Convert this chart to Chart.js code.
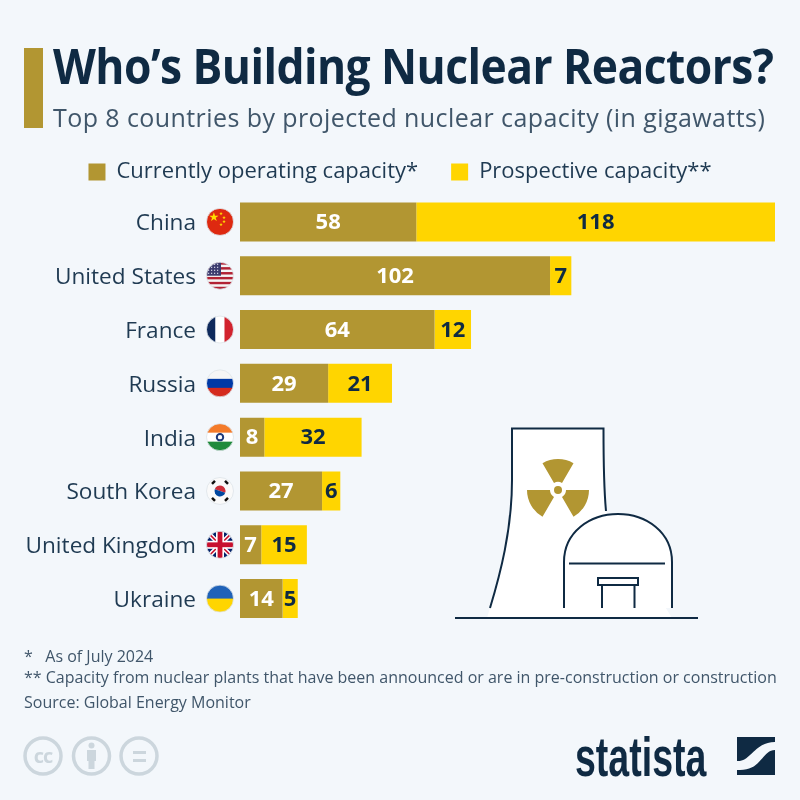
<!DOCTYPE html>
<html>
<head>
<meta charset="utf-8">
<script src="https://cdn.jsdelivr.net/npm/chart.js@4"></script>
<style>
  html, body { margin: 0; padding: 0; background: #f3f7fb; }
  #page { position: relative; width: 800px; height: 800px; overflow: hidden; font-family: "Open Sans", sans-serif; color: #0f2a43; }
  #page div { position: absolute; white-space: nowrap; }
  canvas { position: absolute; left: 0; top: 0; }
  svg { position: absolute; left: 0; top: 0; }
  .note { left: 24px; font-size: 16px; color: #40566a; }
</style>
</head>
<body>
<div id="page">
  <canvas id="reactorsCanvas" width="800" height="800"></canvas>
  <div style="left:24px;top:48px;width:19px;height:80px;background:#b29632"></div>
  <div style="left:53px;top:33px;font-size:48px;font-weight:700;letter-spacing:-0.6px;transform:scaleX(0.925);transform-origin:left top">Who’s Building Nuclear Reactors?</div>
  <div style="left:53px;top:100px;font-size:25px;color:#40566a;letter-spacing:0.42px">Top 8 countries by projected nuclear capacity (in gigawatts)</div>
  <div class="note" style="top:645px">*&nbsp;&nbsp; As of July 2024</div>
  <div class="note" style="top:666px">** Capacity from nuclear plants that have been announced or are in pre-construction or construction</div>
  <div class="note" style="top:691px">Source: Global Energy Monitor</div>
  <div style="left:575px;top:728.6px;font-family:'Liberation Sans';font-weight:700;font-size:56px;line-height:56px;transform:scaleX(0.67);transform-origin:left top">statista</div>

  <svg width="800" height="800" viewBox="0 0 800 800">
    <!-- cooling tower and dome -->
    <path d="M512 428.5H603.5C603.5 460 604 490 606 511L672 618H487C500 575 512 530 512 480Z" fill="#fff"/>
    <path d="M490 608C500 575 512 530 512 480V428.5H603.5C603.5 460 604 490 606 511" fill="none" stroke="#0f2a43" stroke-width="2"/>
    <path d="M564 608V562C564 532 590 514 618 514C646 514 672 532 672 562V608" fill="#fff" stroke="#0f2a43" stroke-width="2"/>
    <path d="M569 563.5H665M602 586V608M634.5 586V608M455 618H698" fill="none" stroke="#0f2a43" stroke-width="2"/>
    <rect x="598" y="578" width="40" height="7" fill="#fff" stroke="#0f2a43" stroke-width="2"/>
    <g fill="#b29632">
      <circle cx="558" cy="490" r="4"/>
      <path d="M542.5 463.2A31 31 0 0 1 573.5 463.2L562 483A8 8 0 0 0 554 483Z"/>
      <path d="M527 490A31 31 0 0 0 542.5 516.8L554 497A8 8 0 0 1 550 490Z"/>
      <path d="M589 490A31 31 0 0 1 573.5 516.8L562 497A8 8 0 0 0 566 490Z"/>
    </g>
    <!-- licence icons -->
    <g fill="none" stroke="#ccd6dd" stroke-width="3.5">
      <circle cx="43" cy="756" r="18"/><circle cx="91.5" cy="756" r="18"/><circle cx="139" cy="756" r="18"/>
    </g>
    <text x="43" y="763" text-anchor="middle" font-family="Open Sans" font-weight="700" font-size="20" letter-spacing="-1" fill="#ccd6dd">cc</text>
    <g fill="#ccd6dd">
      <circle cx="91.5" cy="745.5" r="3"/><rect x="87" y="750" width="9" height="11"/><rect x="88.5" y="760" width="6" height="9"/>
      <rect x="133" y="751" width="13" height="3"/><rect x="133" y="759" width="13" height="3"/>
    </g>
    <!-- logo mark -->
    <rect x="737" y="737" width="38" height="38" fill="#0f2a43"/>
    <path d="M737 761C751 762 754 742 775 742V750C762 750 762 770 740 770H737Z" fill="#f3f7fb"/>
  </svg>
</div>

<script>
var countries = ["China", "United States", "France", "Russia", "India", "South Korea", "United Kingdom", "Ukraine"];
var operatingCapacity = [58, 102, 64, 29, 8, 27, 7, 14];
var prospectiveCapacity = [118, 7, 12, 21, 32, 6, 15, 5];
var seriesNames = ["Currently operating capacity*", "Prospective capacity**"];

var gold = "#b29632";
var yellow = "#ffd500";
var navy = "#0f2a43";

function stripes(ctx, x, y, r, colors) {
  var h = 2 * r / colors.length;
  colors.forEach(function (c, i) {
    ctx.fillStyle = c;
    ctx.fillRect(x - r, y - r + i * h, 2 * r, h + 0.5);
  });
}

var flags = {
  "China": function (ctx, x, y, r) {
    ctx.fillStyle = "#de2910";
    ctx.fillRect(x - r, y - r, 2 * r, 2 * r);
    ctx.fillStyle = "#ffde00";
    ctx.font = "12px 'DejaVu Sans'";
    ctx.textAlign = "center";
    ctx.textBaseline = "middle";
    ctx.fillText("★", x - 6, y - 4);
    ctx.font = "4.5px 'DejaVu Sans'";
    ctx.fillText("★", x + 1, y - 8);
    ctx.fillText("★", x + 4, y - 4);
    ctx.fillText("★", x + 4, y + 0);
    ctx.fillText("★", x + 1, y + 3);
  },
  "United States": function (ctx, x, y, r) {
    var colors = [];
    for (var i = 0; i < 11; i++) colors.push(i % 2 ? "#f4f4f4" : "#b22234");
    stripes(ctx, x, y, r, colors);
    ctx.fillStyle = "#3c3b6e";
    ctx.fillRect(x - r, y - r, r + 1, r);
    ctx.fillStyle = "#d5d5e5";
    for (var a = 0; a < 4; a++) for (var b = 0; b < 4; b++) ctx.fillRect(x - r + 1.5 + a * 3, y - r + 1.5 + b * 3, 1.2, 1.2);
  },
  "France": function (ctx, x, y, r) {
    var w = 2 * r / 3;
    ctx.fillStyle = "#0f2a5c"; ctx.fillRect(x - r, y - r, w, 2 * r);
    ctx.fillStyle = "#fff"; ctx.fillRect(x - r + w, y - r, w, 2 * r);
    ctx.fillStyle = "#d2232e"; ctx.fillRect(x - r + 2 * w, y - r, w, 2 * r);
  },
  "Russia": function (ctx, x, y, r) { stripes(ctx, x, y, r, ["#f5f5f5", "#0039a6", "#d52b1e"]); },
  "India": function (ctx, x, y, r) {
    stripes(ctx, x, y, r, ["#f47b2a", "#ffffff", "#1f8a3c"]);
    ctx.strokeStyle = "#1f3a7a";
    ctx.lineWidth = 2;
    ctx.beginPath(); ctx.arc(x, y, 3.2, 0, 2 * Math.PI); ctx.stroke();
  },
  "South Korea": function (ctx, x, y, r) {
    ctx.fillStyle = "#fafafa";
    ctx.fillRect(x - r, y - r, 2 * r, 2 * r);
    ctx.fillStyle = "#cd2e3a";
    ctx.beginPath(); ctx.arc(x, y, 5.5, Math.PI * 1.1, Math.PI * 2.1); ctx.fill();
    ctx.fillStyle = "#0047a0";
    ctx.beginPath(); ctx.arc(x, y, 5.5, Math.PI * 0.1, Math.PI * 1.1); ctx.fill();
    ctx.strokeStyle = "#111";
    ctx.lineWidth = 2.4;
    [[-8, -7, -5, -10], [8, -7, 5, -10], [-8, 7, -5, 10], [8, 7, 5, 10]].forEach(function (s) {
      ctx.beginPath(); ctx.moveTo(x + s[0], y + s[1]); ctx.lineTo(x + s[2], y + s[3]); ctx.stroke();
    });
  },
  "United Kingdom": function (ctx, x, y, r) {
    ctx.fillStyle = "#012169";
    ctx.fillRect(x - r, y - r, 2 * r, 2 * r);
    ctx.strokeStyle = "#fff"; ctx.lineWidth = 4.5;
    ctx.beginPath(); ctx.moveTo(x - r, y - r); ctx.lineTo(x + r, y + r); ctx.moveTo(x + r, y - r); ctx.lineTo(x - r, y + r); ctx.stroke();
    ctx.strokeStyle = "#c8102e"; ctx.lineWidth = 1.6;
    ctx.beginPath(); ctx.moveTo(x - r, y - r); ctx.lineTo(x + r, y + r); ctx.moveTo(x + r, y - r); ctx.lineTo(x - r, y + r); ctx.stroke();
    ctx.fillStyle = "#fff";
    ctx.fillRect(x - 4, y - r, 8, 2 * r); ctx.fillRect(x - r, y - 4, 2 * r, 8);
    ctx.fillStyle = "#c8102e";
    ctx.fillRect(x - 2.4, y - r, 4.8, 2 * r); ctx.fillRect(x - r, y - 2.4, 2 * r, 4.8);
  },
  "Ukraine": function (ctx, x, y, r) { stripes(ctx, x, y, r, ["#1f62b8", "#ffd500"]); }
};

// flags next to the category labels, values inside the segments
var decorations = {
  id: "decorations",
  beforeInit: function (chart) {
    var fit = chart.legend.fit;
    chart.legend.fit = function () {
      fit.call(this);
      this.height = 67;
    };
  },
  afterLayout: function (chart) {
    // legend is centred on the page, not on the padded chart box
    chart.legend.left += 12.5;
    chart.legend.right += 12.5;
  },
  afterDatasetsDraw: function (chart) {
    var ctx = chart.ctx;
    var yScale = chart.scales.y;
    countries.forEach(function (name, i) {
      var x = 220, y = yScale.getPixelForValue(i), r = 13.5;
      ctx.save();
      ctx.beginPath();
      ctx.arc(x, y, r, 0, 2 * Math.PI);
      ctx.save();
      ctx.clip();
      flags[name](ctx, x, y, r);
      ctx.restore();
      ctx.strokeStyle = "#dde3e8";
      ctx.lineWidth = 0.8;
      ctx.beginPath();
      ctx.arc(x, y, r, 0, 2 * Math.PI);
      ctx.stroke();
      ctx.restore();
    });
    chart.data.datasets.forEach(function (ds, d) {
      chart.getDatasetMeta(d).data.forEach(function (bar, i) {
        ctx.save();
        ctx.fillStyle = d === 0 ? "#ffffff" : navy;
        ctx.font = "700 22px 'Open Sans'";
        ctx.textAlign = "center";
        ctx.textBaseline = "middle";
        ctx.fillText(ds.data[i], (bar.base + bar.x) / 2, bar.y + 1);
        ctx.restore();
      });
    });
  }
};

new Chart(document.getElementById("reactorsCanvas"), {
  type: "bar",
  data: {
    labels: countries,
    datasets: [
      { label: seriesNames[0], data: operatingCapacity, backgroundColor: gold },
      { label: seriesNames[1], data: prospectiveCapacity, backgroundColor: yellow }
    ]
  },
  options: {
    indexAxis: "y",
    responsive: false,
    animation: false,
    barPercentage: 0.725,
    categoryPercentage: 1,
    layout: { padding: { left: 0, right: 25, top: 128, bottom: 174.5 } },
    plugins: {
      tooltip: { enabled: false },
      legend: {
        position: "top",
        labels: {
          boxWidth: 17,
          boxHeight: 17,
          padding: 33,
          color: "#1f3a52",
          font: { family: "Open Sans", size: 22 }
        }
      }
    },
    scales: {
      x: { stacked: true, display: false, min: 0, max: 176 },
      y: {
        stacked: true,
        afterFit: function (scale) { scale.width = 240; },
        grid: { display: false, drawTicks: false },
        border: { display: false },
        ticks: { padding: 44, labelOffset: 2, color: "#1f3a52", font: { family: "Open Sans", size: 22.6 } }
      }
    }
  },
  plugins: [decorations]
});
</script>
</body>
</html>
